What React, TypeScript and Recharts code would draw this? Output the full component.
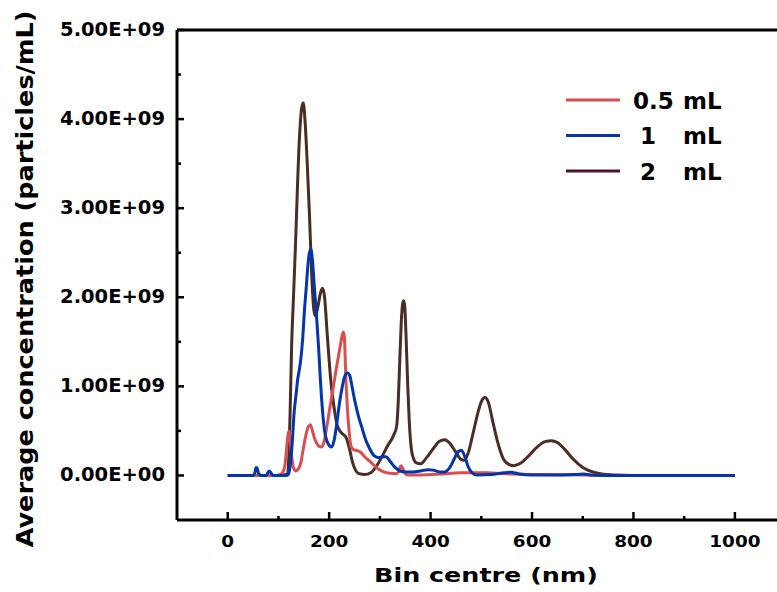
import React from 'react';
import { LineChart, Line, XAxis, YAxis, ReferenceLine, Legend } from 'recharts';

const FONT = '"DejaVu Sans", sans-serif';
const W = 777;
const H = 592;

// Series names
const seriesNames = ['0.5 mL', '1 mL', '2 mL'];
const seriesColors = ['#d94f4f', '#0535ad', '#4b2d24'];
const legendColors = ['#d94f4f', '#0535ad', '#4a1430'];

// Concentration values are in units of 1e9 particles/mL
const UNIT = 1e9;

// 0.5 mL
const size05 = [0, 95, 103, 109, 113, 116, 119, 121, 123, 126, 130, 134, 139, 144, 149, 154, 159, 163, 167, 172, 178, 184, 189, 194, 200, 207, 213, 218, 223, 226, 228, 230, 233, 236, 239, 243, 248, 255, 262, 270, 282, 295, 308, 320, 332, 337, 340, 342, 345, 349, 354, 380, 420, 459, 510, 560, 620, 700, 800, 1000];
const conc05 = [0, 0, 0.01, 0.04, 0.12, 0.3, 0.46, 0.5, 0.42, 0.22, 0.08, 0.05, 0.07, 0.14, 0.3, 0.45, 0.55, 0.57, 0.5, 0.4, 0.34, 0.32, 0.36, 0.5, 0.71, 0.95, 1.16, 1.33, 1.49, 1.58, 1.61, 1.55, 1.08, 0.75, 0.52, 0.33, 0.29, 0.28, 0.26, 0.21, 0.15, 0.08, 0.04, 0.025, 0.02, 0.04, 0.09, 0.11, 0.08, 0.03, 0.005, 0.005, 0.015, 0.03, 0.03, 0.015, 0.01, 0.005, 0, 0];

// 1 mL
const size1 = [0, 50, 53, 56, 58, 61, 66, 76, 79, 82, 85, 90, 115, 119, 123, 127, 131, 135, 138, 141, 144, 148, 151, 155, 158, 161, 164, 167, 171, 175, 179, 183, 187, 191, 196, 201, 205, 210, 215, 220, 225, 230, 236, 240, 246, 252, 258, 265, 272, 280, 289, 298, 305, 312, 320, 330, 340, 350, 365, 380, 395, 405, 418, 428, 438, 447, 455, 461, 467, 474, 482, 492, 520, 545, 558, 572, 600, 650, 690, 702, 715, 740, 1000];
const conc1 = [0, 0, 0.02, 0.09, 0.08, 0.02, 0, 0, 0.03, 0.05, 0.03, 0, 0, 0.01, 0.1, 0.35, 0.71, 0.92, 1.08, 1.18, 1.3, 1.55, 1.83, 2.12, 2.35, 2.5, 2.54, 2.42, 2.1, 1.8, 1.45, 1.05, 0.72, 0.5, 0.38, 0.33, 0.32, 0.4, 0.58, 0.8, 0.97, 1.1, 1.15, 1.13, 0.97, 0.8, 0.66, 0.53, 0.4, 0.3, 0.22, 0.2, 0.21, 0.21, 0.16, 0.09, 0.05, 0.04, 0.04, 0.05, 0.065, 0.06, 0.04, 0.04, 0.09, 0.19, 0.27, 0.28, 0.22, 0.1, 0.03, 0.005, 0.01, 0.03, 0.035, 0.02, 0.005, 0.005, 0.012, 0.015, 0.005, 0, 0];

// 2 mL
const size2 = [0, 100, 115, 118, 121, 123, 126, 130, 134, 138, 142, 146, 149, 152, 156, 161, 166, 170, 173, 178, 183, 187, 191, 196, 203, 210, 216, 224, 233, 240, 246, 252, 259, 270, 282, 295, 305, 315, 327, 333, 336, 339, 342, 345, 347, 349, 352, 355, 358, 362, 367, 372, 380, 392, 405, 417, 428, 438, 450, 460, 466, 474, 484, 494, 501, 507, 514, 522, 532, 544, 556, 564, 578, 595, 612, 626, 638, 650, 665, 680, 700, 725, 760, 800, 1000];
const conc2 = [0, 0, 0.01, 0.02, 0.3, 0.7, 1.45, 2.05, 2.65, 3.32, 3.85, 4.13, 4.18, 4.02, 3.6, 2.95, 2.2, 1.85, 1.79, 1.9, 2.05, 2.1, 2.0, 1.6, 1.08, 0.75, 0.56, 0.48, 0.43, 0.3, 0.15, 0.06, 0.02, 0.01, 0.03, 0.12, 0.22, 0.33, 0.45, 0.55, 0.8, 1.25, 1.7, 1.93, 1.96, 1.9, 1.5, 1.0, 0.6, 0.3, 0.18, 0.14, 0.13, 0.2, 0.3, 0.38, 0.4, 0.36, 0.26, 0.18, 0.17, 0.25, 0.48, 0.72, 0.84, 0.875, 0.82, 0.62, 0.38, 0.18, 0.12, 0.11, 0.14, 0.23, 0.33, 0.38, 0.39, 0.37, 0.29, 0.19, 0.09, 0.03, 0.005, 0, 0];

const xTicks = [0, 100, 200, 300, 400, 500, 600, 700, 800, 900, 1000];
const yTicks = [0, 0.5e9, 1e9, 1.5e9, 2e9, 2.5e9, 3e9, 3.5e9, 4e9, 4.5e9, 5e9];

const build = (xs: number[], ys: number[]) => xs.map((x, i) => ({ x, y: ys[i] * UNIT }));
const data05 = build(size05, conc05);
const data1 = build(size1, conc1);
const data2 = build(size2, conc2);

const formatSci = (v: number) => {
  const [m, e] = v.toExponential(2).split('e');
  const sign = e[0];
  const digits = e.slice(1).padStart(2, '0');
  return `${m}E${sign}${digits}`;
};

const XTick = (props: any) => {
  const { x, y, payload } = props;
  const major = payload.value % 200 === 0;
  return (
    <g>
      <line x1={x} x2={x} y1={y} y2={y - (major ? 8 : 4)} stroke="#000" strokeWidth={2.5} />
      {major && (
        <text
          transform={`translate(${x},${y + 27}) scale(1.15,1)`}
          textAnchor="middle"
          fontFamily={FONT}
          fontWeight="bold"
          fontSize={16}
          fill="#000"
        >
          {payload.value}
        </text>
      )}
    </g>
  );
};

const YTick = (props: any) => {
  const { x, y, payload } = props;
  const major = Math.round(payload.value / 1e8) % 10 === 0;
  return (
    <g>
      <line x1={x} x2={x + (major ? 7 : 4)} y1={y} y2={y} stroke="#000" strokeWidth={2.5} />
      {major && (
        <text
          x={x - 12}
          y={y + 6}
          textAnchor="end"
          fontFamily={FONT}
          fontWeight="bold"
          fontSize={19.5}
          fill="#000"
        >
          {formatSci(payload.value)}
        </text>
      )}
    </g>
  );
};

const XTitle = (props: any) => {
  const vb = props.viewBox || {};
  const cx = vb.x + vb.width / 2 + 9;
  const cy = vb.y + 62;
  return (
    <text
      transform={`translate(${cx},${cy}) scale(1.27,1)`}
      textAnchor="middle"
      fontFamily={FONT}
      fontWeight="bold"
      fontSize={20}
      fill="#000"
    >
      Bin centre (nm)
    </text>
  );
};

const YTitle = (props: any) => {
  const vb = props.viewBox || {};
  const cx = vb.x - 44;
  const cy = vb.y + vb.height / 2 + 4;
  return (
    <text
      transform={`translate(${cx},${cy}) rotate(-90) scale(1.11,1)`}
      textAnchor="middle"
      fontFamily={FONT}
      fontWeight="bold"
      fontSize={23}
      fill="#000"
    >
      Average concentration (particles/mL)
    </text>
  );
};

const LegendContent = (props: any) => {
  const items = [...(props.payload || [])].sort(
    (a: any, b: any) => seriesNames.indexOf(a.value) - seriesNames.indexOf(b.value)
  );
  return (
    <svg width={200} height={110} style={{ display: 'block' }}>
      {items.map((it: any, i: number) => {
        const cy = 20 + i * 35.5;
        const [num, unit] = String(it.value).split(' ');
        const idx = seriesNames.indexOf(it.value);
        return (
          <g key={it.value}>
            <line x1={6} x2={60} y1={cy} y2={cy} stroke={legendColors[idx] || it.color} strokeWidth={3} />
            <text x={num.length > 1 ? 73 : 80} y={cy + 8.5} fontFamily={FONT} fontWeight="bold" fontSize={23} fill="#000">
              {num}
            </text>
            <text x={123} y={cy + 8.5} fontFamily={FONT} fontWeight="bold" fontSize={23} fill="#000">
              {unit}
            </text>
          </g>
        );
      })}
    </svg>
  );
};

export default function App() {
  return (
    <div style={{ position: 'absolute', left: 0, top: 0, width: W, height: H, background: '#fff', overflow: 'hidden' }}>
      <LineChart width={W} height={H} margin={{ top: 30, right: 0, bottom: 42, left: 77 }}>
        <XAxis
          type="number"
          dataKey="x"
          domain={[-100, 1083]}
          allowDataOverflow
          ticks={xTicks}
          interval={0}
          height={30}
          tickLine={false}
          tickSize={0}
          tickMargin={0}
          axisLine={{ stroke: '#000', strokeWidth: 3 }}
          tick={<XTick />}
          label={<XTitle />}
        />
        <YAxis
          type="number"
          domain={[-0.5e9, 5e9]}
          allowDataOverflow
          ticks={yTicks}
          interval={0}
          width={100}
          tickLine={false}
          tickSize={0}
          tickMargin={0}
          axisLine={{ stroke: '#000', strokeWidth: 3 }}
          tick={<YTick />}
          label={<YTitle />}
        />
        <ReferenceLine y={5e9} stroke="#000" strokeWidth={3} />
        <Legend
          layout="horizontal"
          verticalAlign="middle"
          align="center"
          content={<LegendContent />}
          wrapperStyle={{ position: 'absolute', left: 560, top: 80, width: 200, height: 110 }}
        />
        <Line
          data={data2}
          dataKey="y"
          name={seriesNames[2]}
          type="monotone"
          stroke={seriesColors[2]}
          strokeWidth={3}
          dot={false}
          activeDot={false}
          isAnimationActive={false}
        />
        <Line
          data={data05}
          dataKey="y"
          name={seriesNames[0]}
          type="monotone"
          stroke={seriesColors[0]}
          strokeWidth={3}
          dot={false}
          activeDot={false}
          isAnimationActive={false}
        />
        <Line
          data={data1}
          dataKey="y"
          name={seriesNames[1]}
          type="monotone"
          stroke={seriesColors[1]}
          strokeWidth={3}
          dot={false}
          activeDot={false}
          isAnimationActive={false}
        />
      </LineChart>
    </div>
  );
}
